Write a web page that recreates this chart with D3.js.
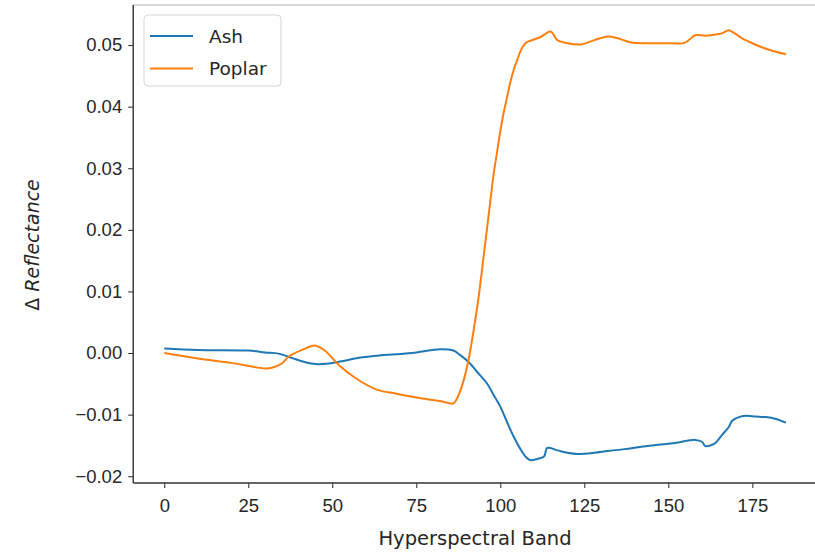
<!DOCTYPE html>
<html lang="en">
<head>
<meta charset="utf-8">
<style>
  body { margin: 0; background: white; }
  svg { font-family: 'DejaVu Sans', sans-serif; }
  .axis text { fill: #262626; font-size: 18.5px; }
  .axis line, .axis path { stroke: #262626; }
  path.series { fill: none; stroke-width: 2px; }
</style>
</head>
<body>
<svg width="815" height="558"></svg>
<script src="https://d3js.org/d3.v7.min.js"></script>
<script>
// bands and values
const ashBands = [0, 10, 25, 30, 34, 38, 42, 45, 49, 54, 59, 64, 69, 75, 82, 86, 88, 91, 93, 96, 98, 100, 102, 104, 106, 108, 109, 111, 113, 114, 117, 120, 123, 128, 132, 137, 142, 147, 152, 158, 160, 161, 163, 164, 166, 168, 169, 171, 173, 176, 179, 182, 185]
const ashValues = [0.00075, 0.0005, 0.0004, 0.0001, -0.0001, -0.0008, -0.0015, -0.0018, -0.0017, -0.0012, -0.0007, -0.0004, -0.0002, 0.0001, 0.0006, 0.0004, -0.0003, -0.0017, -0.003, -0.0049, -0.0068, -0.0087, -0.0112, -0.0136, -0.0156, -0.0171, -0.0174, -0.0172, -0.0168, -0.0154, -0.0158, -0.0162, -0.0164, -0.0162, -0.0159, -0.0156, -0.0152, -0.0149, -0.0146, -0.0141, -0.0144, -0.0151, -0.0149, -0.0146, -0.0133, -0.0120, -0.0110, -0.0104, -0.0102, -0.0103, -0.0104, -0.0107, -0.0113]
const poplarBands = [0, 10, 20, 30, 32, 35, 37, 41, 45, 48, 52, 57, 63, 69, 76, 83, 86, 87, 88.5, 90.5, 93, 94, 95, 96, 97, 98, 99, 100, 101, 102, 103, 104, 105, 106, 107, 108, 109, 112, 115, 117, 120, 124, 128, 132, 135, 139, 144, 149, 155, 158, 161, 164, 166, 168, 170, 172, 175, 178, 182, 185]
const poplarValues = [0.0, -0.0009, -0.0016, -0.0025, -0.0024, -0.0017, -0.0006, 0.0005, 0.0012, 0.0003, -0.002, -0.0041, -0.0059, -0.0066, -0.0073, -0.0079, -0.0082, -0.0075, -0.0055, -0.0012, 0.007, 0.011, 0.0155, 0.020, 0.0245, 0.029, 0.0325, 0.036, 0.039, 0.0415, 0.044, 0.046, 0.0475, 0.049, 0.050, 0.0505, 0.0507, 0.0513, 0.0522, 0.0508, 0.0503, 0.0501, 0.0508, 0.0514, 0.0511, 0.0504, 0.0503, 0.0503, 0.0504, 0.0516, 0.0515, 0.0517, 0.0519, 0.0524, 0.0518, 0.0511, 0.0503, 0.0496, 0.0489, 0.0485]
const xTicks = [0, 25, 50, 75, 100, 125, 150, 175]
const yTicks = [-0.02, -0.01, 0, 0.01, 0.02, 0.03, 0.04, 0.05]

const svg = d3.select("svg")
const plot = { left: 133.2, right: 817, top: 5, bottom: 483 }

const x = d3.scaleLinear().domain([-9.25, 194.25]).range([plot.left, plot.right])
const y = d3.scaleLinear().domain([-0.0211, 0.0565]).range([plot.bottom, plot.top])

// axes
const xAxis = d3.axisBottom(x).tickValues(xTicks).tickSize(5).tickPadding(6).tickFormat(d3.format("d"))
const yAxis = d3.axisLeft(y).tickValues(yTicks).tickSize(5).tickPadding(6).tickFormat(d3.format(".2f"))

const gx = svg.append("g").attr("class", "axis")
  .attr("transform", "translate(0," + plot.bottom + ")")
  .call(xAxis)
gx.select(".domain").remove()
gx.selectAll("text").attr("dy", "0.95em")

const gy = svg.append("g").attr("class", "axis")
  .attr("transform", "translate(" + plot.left + ",0)")
  .call(yAxis)
gy.select(".domain").remove()

// spines
svg.append("line").attr("x1", plot.left).attr("x2", plot.right).attr("y1", plot.top).attr("y2", plot.top)
  .attr("stroke", "#b0b0b0").attr("stroke-width", 1.2)
svg.append("line").attr("x1", plot.left).attr("x2", plot.left).attr("y1", plot.top).attr("y2", plot.bottom)
  .attr("stroke", "#333").attr("stroke-width", 1.4)
svg.append("line").attr("x1", plot.left).attr("x2", plot.right).attr("y1", plot.bottom).attr("y2", plot.bottom)
  .attr("stroke", "#333").attr("stroke-width", 1.4)

// lines
const line = d3.line()
  .curve(d3.curveCatmullRom.alpha(0.5))
  .x(d => x(d[0]))
  .y(d => y(d[1]))

const series = [
  { name: "Ash", color: "#1f77b4", data: d3.zip(ashBands, ashValues) },
  { name: "Poplar", color: "#ff7f0e", data: d3.zip(poplarBands, poplarValues) }
]

svg.selectAll("path.series")
  .data(series)
  .join("path")
  .attr("class", "series")
  .attr("stroke", d => d.color)
  .attr("d", d => line(d.data))

// axis labels
svg.append("text")
  .attr("x", 475).attr("y", 545)
  .attr("text-anchor", "middle")
  .attr("font-size", 19.5).attr("fill", "#262626")
  .text("Hyperspectral Band")

const yl = svg.append("text")
  .attr("transform", "translate(39,245) rotate(-90)")
  .attr("text-anchor", "middle")
  .attr("font-size", 19).attr("fill", "#262626")
yl.append("tspan").text("Δ ")
yl.append("tspan").attr("font-style", "italic").text("Reflectance")

// legend
const legend = svg.append("g")
legend.append("rect")
  .attr("x", 144).attr("y", 15).attr("width", 137).attr("height", 71)
  .attr("rx", 4).attr("fill", "white").attr("fill-opacity", 0.8)
  .attr("stroke", "#d5d5d5")
const items = legend.selectAll("g.item").data(series).join("g")
  .attr("transform", (d, i) => "translate(0," + (36 + i * 32.5) + ")")
items.append("line").attr("x1", 150).attr("x2", 193).attr("y1", 0).attr("y2", 0)
  .attr("stroke", d => d.color).attr("stroke-width", 2)
items.append("text").attr("x", 209).attr("y", 0).attr("dy", "0.36em")
  .attr("font-size", 18.5).attr("fill", "#262626")
  .text(d => d.name)
</script>
</body>
</html>
